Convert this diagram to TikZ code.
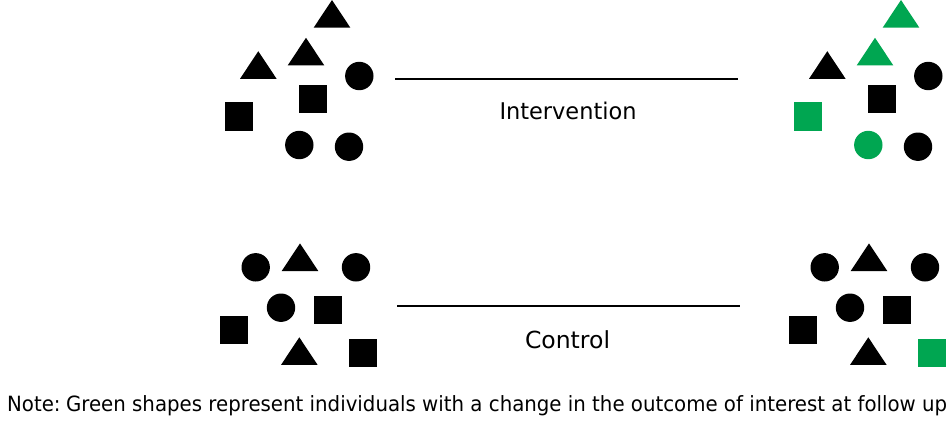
\documentclass[tikz,border=0pt]{standalone}
\usepackage{fontspec}
\setmainfont{DejaVu Sans}
\usepackage{graphicx}
\definecolor{grn}{HTML}{00A651}
\tikzset{
  blk/.style={fill=black},
  gr/.style={fill=grn},
  conn/.style={draw=black, line width=2pt},
  lbl/.style={anchor=base, inner sep=0pt},
}
\newcommand\mytri[3]{\path[#3] ({#1-18.3},{#2+27.6}) -- (#1,#2) -- ({#1+18.3},{#2+27.6}) -- cycle;}
\newcommand\mycirc[3]{\path[#3] (#1,#2) circle[radius=14.2pt];}
\newcommand\mysq[3]{\path[#3] ({#1-14.15},{#2-14.15}) rectangle ({#1+14.15},{#2+14.15});}
\begin{document}
\begin{tikzpicture}[x=1pt,y=-1pt]
\useasboundingbox[fill=white] (0,0) rectangle (950,445);
% top left group (baseline)
\mytri{332}{0}{blk}
\mytri{306}{37.8}{blk}
\mytri{258.3}{51.2}{blk}
\mycirc{359.3}{76}{blk}
\mysq{313.3}{99.2}{blk}
\mysq{239.2}{116.5}{blk}
\mycirc{299.3}{145}{blk}
\mycirc{349}{146.7}{blk}
% top right group (follow up)
\begin{scope}[xshift=569pt]
\mytri{332}{0}{gr}
\mytri{306}{37.8}{gr}
\mytri{258.3}{51.2}{blk}
\mycirc{359.3}{76}{blk}
\mysq{313.3}{99.2}{blk}
\mysq{239.2}{116.5}{gr}
\mycirc{299.3}{145}{gr}
\mycirc{349}{146.7}{blk}
\end{scope}
% bottom left group
\mycirc{255.7}{267.3}{blk}
\mytri{300}{243.4}{blk}
\mycirc{356}{267.3}{blk}
\mycirc{281}{307.7}{blk}
\mysq{328.3}{310}{blk}
\mysq{234.2}{329.8}{blk}
\mytri{299.3}{337.3}{blk}
\mysq{363.3}{353}{blk}
% bottom right group
\begin{scope}[xshift=569pt]
\mycirc{255.7}{267.3}{blk}
\mytri{300}{243.4}{blk}
\mycirc{356}{267.3}{blk}
\mycirc{281}{307.7}{blk}
\mysq{328.3}{310}{blk}
\mysq{234.2}{329.8}{blk}
\mytri{299.3}{337.3}{blk}
\mysq{363.3}{353}{gr}
\end{scope}
% connectors
\coordinate (ia) at (395,79.3);
\coordinate (ib) at (738.3,79.3);
\coordinate (ca) at (397,305.7);
\coordinate (cb) at (740,305.7);
\draw[conn] (ia) -- (ib);
\draw[conn] (ca) -- (cb);
% labels
\node[lbl] (int) at (568,119.3) {\resizebox{137pt}{\height}{\fontsize{23}{27}\selectfont Intervention}};
\node[lbl] (ctl) at (567.5,348.5) {\resizebox{85pt}{\height}{\fontsize{23.5}{28}\selectfont Control}};
\node[lbl, anchor=base west] (note) at (7,411.7) {\resizebox{940pt}{\height}{\fontsize{21}{25}\selectfont Note:\kern-0.15em{} Green shapes represent individuals with a change in the outcome of interest at follow up}};
\end{tikzpicture}
\end{document}
